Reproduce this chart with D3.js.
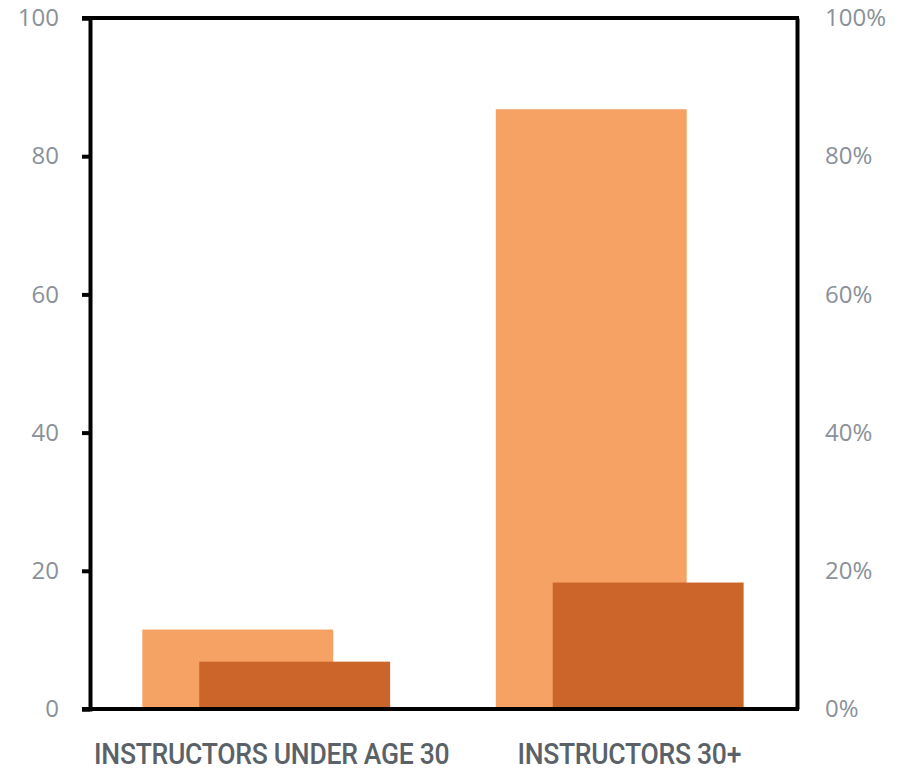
<!DOCTYPE html>
<html>
<head>
<meta charset="utf-8">
<script src="https://cdn.jsdelivr.net/npm/d3@7"></script>
<style>
  html, body { margin: 0; padding: 0; background: #fff; }
  svg { display: block; }
</style>
</head>
<body>
<svg id="chart" width="912" height="768"></svg>
<script>
const categories = ["INSTRUCTORS UNDER AGE 30", "INSTRUCTORS 30+"];
const seriesLight = [11.5, 86.8];
const seriesDark = [6.85, 18.3];
const leftTicks = [0, 20, 40, 60, 80, 100];
const rightTickLabels = ["0%", "20%", "40%", "60%", "80%", "100%"];

const svg = d3.select("#chart");
const plotLeft = 90, plotRight = 797, plotTop = 18, plotBottom = 709;

const x = d3.scaleBand().domain(categories).range([plotLeft, plotRight]).padding(0);
const y = d3.scaleLinear().domain([0, 100]).range([plotBottom, plotTop]);
const yPct = d3.scaleLinear().domain([0, 1]).range([plotBottom, plotTop]);

const bw = x.bandwidth();
const groupW = bw * 0.704;
const barW = bw * 0.54;
const darkOff = bw * 0.161;

const colorLight = "#F6A264";
const colorDark = "#CB6529";

// bars
svg.append("g").selectAll("rect")
  .data(categories)
  .join("rect")
  .attr("x", d => x(d) + bw / 2 - groupW / 2)
  .attr("y", (d, i) => y(seriesLight[i]))
  .attr("width", barW)
  .attr("height", (d, i) => plotBottom - y(seriesLight[i]))
  .attr("fill", colorLight);

svg.append("g").selectAll("rect")
  .data(categories)
  .join("rect")
  .attr("x", d => x(d) + bw / 2 - groupW / 2 + darkOff)
  .attr("y", (d, i) => y(seriesDark[i]))
  .attr("width", barW)
  .attr("height", (d, i) => plotBottom - y(seriesDark[i]))
  .attr("fill", colorDark);

// left axis
const gl = svg.append("g")
  .attr("transform", `translate(${plotLeft},0)`)
  .call(d3.axisLeft(y).tickValues(leftTicks).tickSize(8).tickPadding(23).tickFormat(d3.format("d")));
gl.select(".domain").attr("stroke", "#000").attr("stroke-width", 4);
gl.selectAll(".tick line").attr("stroke", "#000").attr("stroke-width", 4);
gl.selectAll(".tick text")
  .attr("fill", "#8a9199")
  .style("font-family", "'Open Sans', sans-serif")
  .style("font-size", "24px");

// right axis
const gr = svg.append("g")
  .attr("transform", `translate(${plotRight},0)`)
  .call(d3.axisRight(yPct).ticks(5).tickSize(0).tickPadding(28)
    .tickFormat((d, i) => rightTickLabels[i]));
gr.select(".domain").attr("stroke", "#000").attr("stroke-width", 4);
gr.selectAll(".tick text")
  .attr("fill", "#8a9199")
  .style("font-family", "'Open Sans', sans-serif")
  .style("font-size", "24px");

// top and bottom borders
svg.append("line")
  .attr("x1", plotLeft - 8).attr("x2", plotRight + 2)
  .attr("y1", plotTop).attr("y2", plotTop)
  .attr("stroke", "#000").attr("stroke-width", 4);
svg.append("line")
  .attr("x1", plotLeft - 8).attr("x2", plotRight + 2)
  .attr("y1", plotBottom).attr("y2", plotBottom)
  .attr("stroke", "#000").attr("stroke-width", 4);

// category labels (condensed look via horizontal scale)
svg.append("g").selectAll("text")
  .data(categories)
  .join("text")
  .attr("transform", (d, i) => `translate(${x(d) + bw / 2 + (i === 0 ? 5 : 9)},764) scale(0.915,1)`)
  .attr("text-anchor", "middle")
  .attr("fill", "#5a6168")
  .style("font-family", "Roboto, sans-serif")
  .style("font-weight", "500")
  .style("font-size", "29px")
  .style("letter-spacing", "-0.3px")
  .text(d => d);
</script>
</body>
</html>
